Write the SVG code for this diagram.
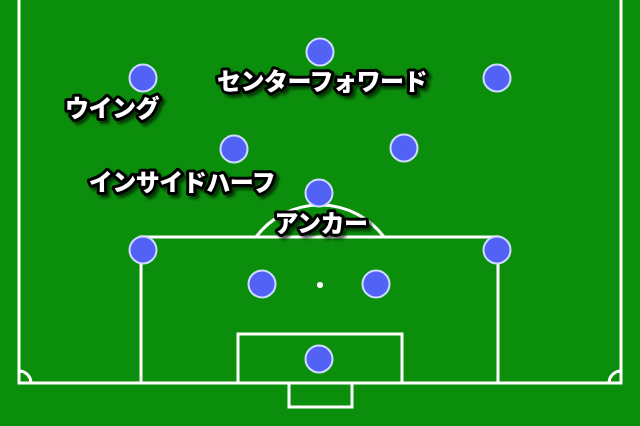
<svg xmlns="http://www.w3.org/2000/svg" width="640" height="426" viewBox="0 0 640 426">
<defs>
<style>
.ln{fill:none;stroke:#ffffff;stroke-width:3}
.pl{fill:#5262f4;stroke:#d0dcff;stroke-width:2}
.lb{font-family:"Noto Sans CJK JP","Noto Sans",sans-serif;font-weight:900;font-size:24px;letter-spacing:-0.5px;fill:#ffffff;stroke:#000000;stroke-width:6;stroke-linejoin:round;paint-order:stroke;filter:url(#sh)}
</style>
<filter id="sh" x="-10%" y="-30%" width="130%" height="170%">
<feDropShadow dx="3" dy="3" stdDeviation="1.5" flood-color="#000" flood-opacity="0.6"/>
</filter>
</defs>
<rect width="640" height="426" fill="#0b8e0b"/>
<g id="field">
<polyline class="ln" points="19,0 19,383 621,383 621,0"/>
<polyline class="ln" points="141,383 141,237 498,237 498,383"/>
<polyline class="ln" points="238,383 238,334 402,334 402,383"/>
<polyline class="ln" points="289,383 289,407 352,407 352,383"/>
<path class="ln" d="M256,237 A80,80 0 0 1 384,237"/>
<path class="ln" d="M19,371 A12,12 0 0 1 31,383"/>
<path class="ln" d="M621,371 A12,12 0 0 0 609,383"/>
<circle cx="320" cy="285" r="3" fill="#ffffff"/>
</g>
<g id="players">
<circle id="p1" class="pl" cx="320" cy="52" r="13.5"/>
<circle id="p2" class="pl" cx="143" cy="78" r="13.5"/>
<circle id="p3" class="pl" cx="497" cy="78" r="13.5"/>
<circle id="p4" class="pl" cx="234" cy="149" r="13.5"/>
<circle id="p5" class="pl" cx="404" cy="148" r="13.5"/>
<circle id="p6" class="pl" cx="319" cy="193" r="13.5"/>
<circle id="p7" class="pl" cx="143" cy="250" r="13.5"/>
<circle id="p8" class="pl" cx="497" cy="250" r="13.5"/>
<circle id="p9" class="pl" cx="262" cy="284" r="13.5"/>
<circle id="p10" class="pl" cx="376" cy="284" r="13.5"/>
<circle id="p11" class="pl" cx="319" cy="359" r="13.5"/>
</g>
<g id="labels">
<text class="lb" x="322" y="90" text-anchor="middle">センターフォワード</text>
<text class="lb" x="112" y="117" text-anchor="middle">ウイング</text>
<text class="lb" x="182" y="191" text-anchor="middle">インサイドハーフ</text>
<text class="lb" x="321" y="232" text-anchor="middle">アンカー</text>
</g>
</svg>
